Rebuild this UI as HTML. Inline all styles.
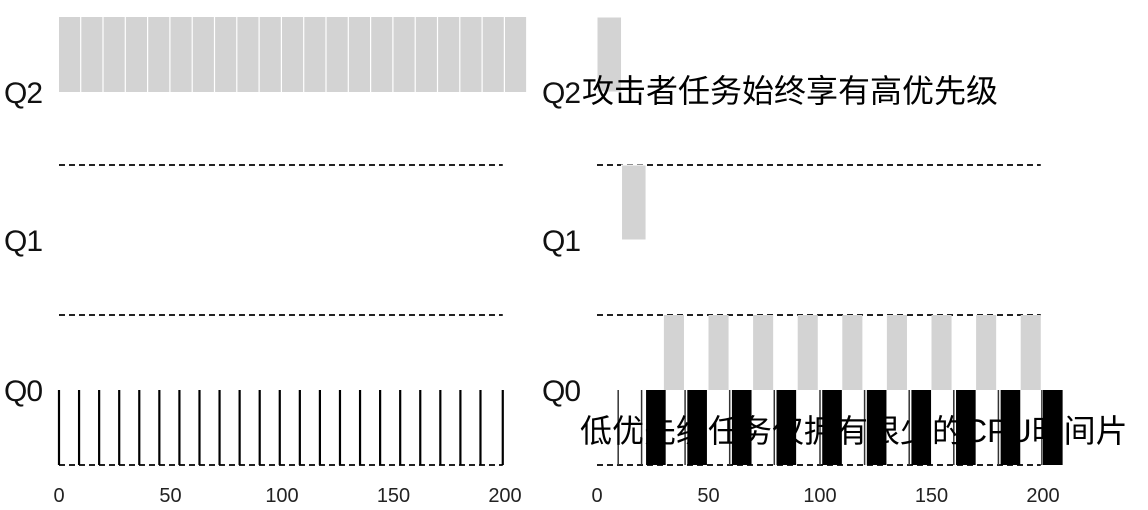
<!DOCTYPE html>
<html><head><meta charset="utf-8"><style>
body{margin:0;background:#fff;width:1148px;height:510px;overflow:hidden}
svg{display:block}
text{font-family:"Liberation Sans","Noto Sans CJK SC",sans-serif}
</style></head><body>
<svg id="c" width="1148" height="510"></svg>
<script>
const ticks=[0,50,100,150,200];
const queues=["Q2","Q1","Q0"];
const leftQ2Starts=[0,10,20,30,40,50,60,70,80,90,100,110,120,130,140,150,160,170,180,190,200];
const leftQ0Spikes=[0,9,18,27,36,45,54,63,72,81,90,99,108,117,126,135,144,153,162,171,180,189,199];
const rightQ2Bars=[[0,11]];
const rightQ1Bars=[[11,22]];
const rightQ0Gray=[30,50,70,90,110,130,150,170,190];
const rightQ0Black=[22,40.5,60.5,80.5,101,121,141,161,181,200];
const rightQ0Lines=[9.5,20,39.5,59.5,79.5,100,120,140,160,180,199.5];
const NS="http://www.w3.org/2000/svg";
const svg=document.getElementById('c');
function mk(t,a,p){const e=document.createElementNS(NS,t);for(const k in a)e.setAttribute(k,a[k]);(p||svg).appendChild(e);return e;}
const laneTop=[17,165,315], laneH=75;
const pxPer=2.23;
function panel(x0,name){
  const g=mk('g',{});
  
  
  const xs=v=>x0+v*pxPer;
  queues.forEach((q,i)=>{
    const t=mk('text',{x:x0-55,y:laneTop[i]+laneH+11,'font-size':30,'letter-spacing':-1,fill:'#111'},g);
    t.textContent=q;
    
    
  });
  [165,315,465].forEach(y=>{
    const l=mk('line',{x1:xs(0),x2:xs(199),y1:y,y2:y,stroke:'#222','stroke-width':2,'stroke-dasharray':'6,4'},g);
    
    
  });
  ticks.forEach(v=>{
    const t=mk('text',{x:xs(v),y:502,'font-size':20,fill:'#222','text-anchor':'middle'},g);
    t.textContent=v;
    
    
  });
  return {g,xs};
}
const L=panel(59,'left-panel');
leftQ2Starts.forEach(s=>{
  const r=mk('rect',{x:L.xs(s),y:17,width:10*pxPer-1.2,height:75,fill:'#d3d3d3'},L.g);
  
  
});
leftQ0Spikes.forEach(s=>{
  const l=mk('line',{x1:L.xs(s),x2:L.xs(s),y1:390,y2:465,stroke:'#000','stroke-width':2.2},L.g);
  
  
});
const R=panel(597,'right-panel');
rightQ2Bars.forEach(b=>{
  const r=mk('rect',{x:R.xs(b[0]),y:17,width:(b[1]-b[0])*pxPer,height:75,fill:'#d3d3d3',stroke:'#fff','stroke-width':1},R.g);
  
  
});
rightQ1Bars.forEach(b=>{
  const r=mk('rect',{x:R.xs(b[0]),y:165,width:(b[1]-b[0])*pxPer,height:75,fill:'#d3d3d3',stroke:'#fff','stroke-width':1},R.g);
  
  
});
rightQ0Gray.forEach(s=>{
  const r=mk('rect',{x:R.xs(s),y:315,width:9*pxPer,height:75,fill:'#d3d3d3'},R.g);
  
  
});
rightQ0Lines.forEach(s=>{
  const l=mk('line',{x1:R.xs(s),x2:R.xs(s),y1:390,y2:465,stroke:'#333','stroke-width':1.5},R.g);
  
  
});
rightQ0Black.forEach(s=>{
  const r=mk('rect',{x:R.xs(s),y:390,width:8.8*pxPer,height:75,fill:'#000'},R.g);
  
  
});
const a1=mk('text',{x:582,y:102,'font-size':32,fill:'#000'});
a1.textContent='攻击者任务始终享有高优先级';


const a2=mk('text',{x:580,y:442,'font-size':32,fill:'#000'});
a2.textContent='低优先级任务仅拥有很少的CPU时间片';


</script>
</body></html>
